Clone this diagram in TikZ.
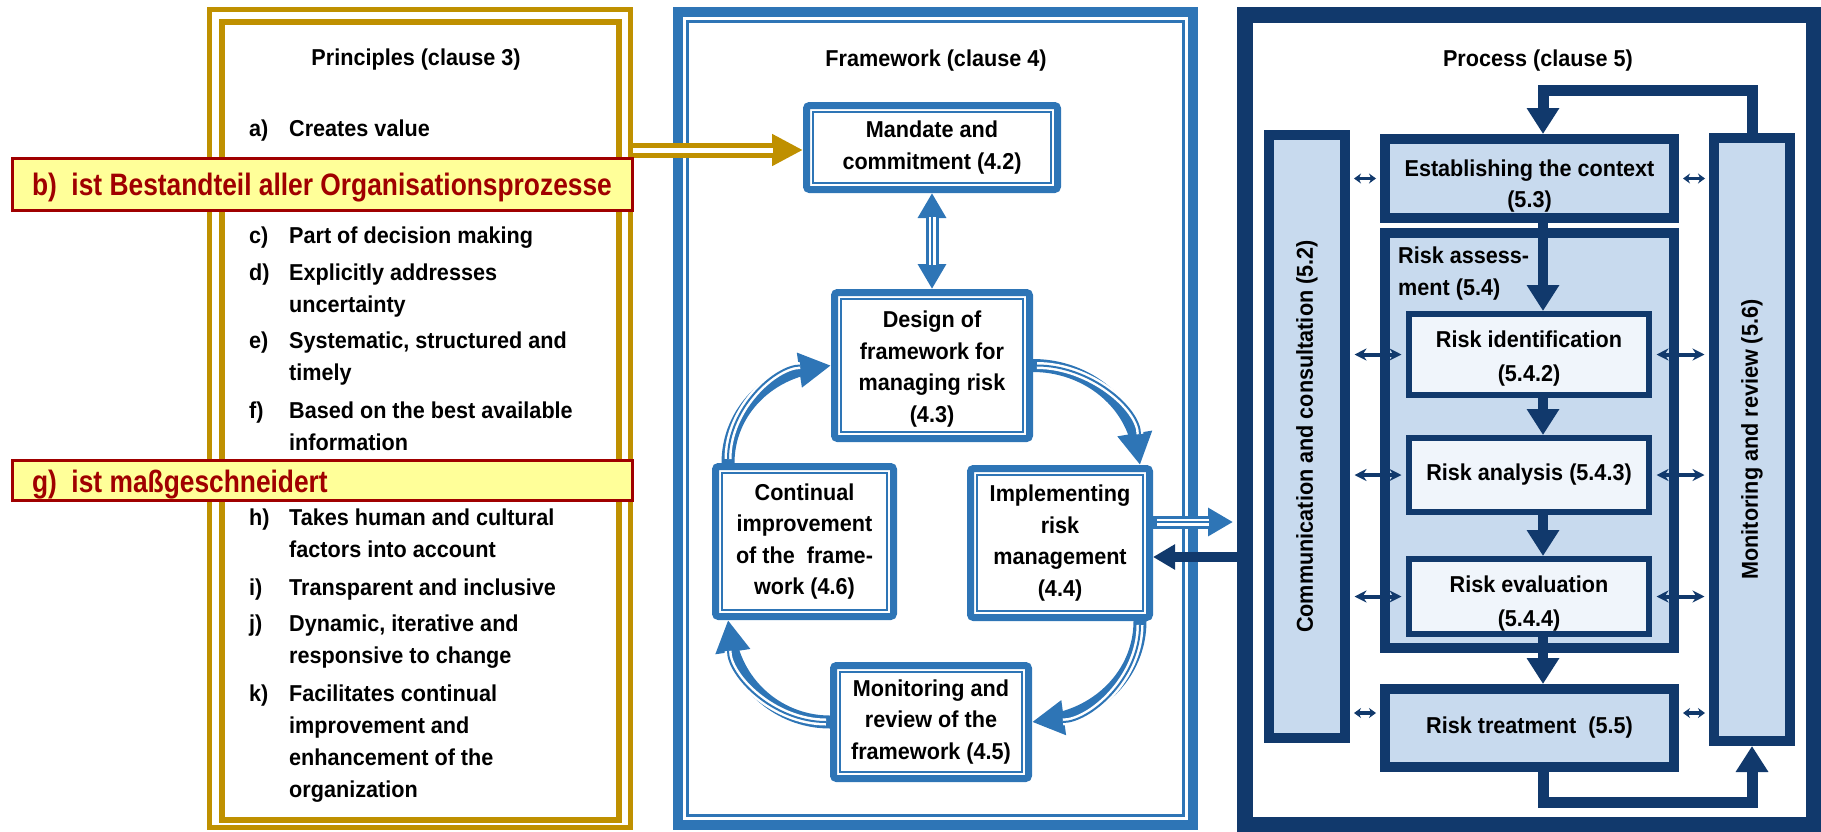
\documentclass[tikz,border=0pt]{standalone}
\usepackage{fontspec}
\setmainfont{Liberation Sans}[FakeStretch=0.94]
\newfontfamily\notefont{Liberation Sans}[FakeStretch=0.85]
\usetikzlibrary{arrows.meta,bending}

\definecolor{gold}{RGB}{191,144,0}
\definecolor{fwblue}{RGB}{46,117,182}
\definecolor{navy}{RGB}{17,57,108}
\definecolor{paleblue}{RGB}{200,218,238}
\definecolor{icefill}{RGB}{240,245,251}
\definecolor{notefill}{RGB}{255,255,153}
\definecolor{notered}{RGB}{160,0,0}

\tikzset{
  listtxt/.style={font=\fontsize{23}{32}\selectfont\bfseries, inner sep=0pt, text=black},
  title/.style={font=\fontsize{23}{32}\selectfont\bfseries, inner sep=0pt, anchor=base},
  fwbox/.style={draw=fwblue, line width=7pt, rounded corners=3pt, fill=white,
    inner sep=0pt, align=center, font=\fontsize{23}{31.5}\selectfont\bfseries,
    path picture={\draw[fwblue, line width=2.5pt, sharp corners]
      ([shift={(6.5pt,6.5pt)}]path picture bounding box.south west) rectangle
      ([shift={(-6.5pt,-6.5pt)}]path picture bounding box.north east);}},
  pbox/.style={draw=navy, line width=10pt, fill=paleblue, inner sep=0pt,
    align=center, font=\fontsize{23}{31}\selectfont\bfseries},
  rbox/.style={draw=navy, line width=6pt, fill=icefill, inner sep=0pt,
    align=center, font=\fontsize{23}{34}\selectfont\bfseries},
  navyflow/.style={draw=navy, line width=10pt, -{Triangle[length=26pt,width=31pt]}},
  link/.style={draw=navy, line width=4pt,
    {Stealth[length=12pt,width=12pt]}-{Stealth[length=12pt,width=12pt]},
    shorten <=4.5pt, shorten >=4.5pt},
  shortlink/.style={draw=navy, line width=3.5pt,
    {Stealth[length=7pt,width=10pt]}-{Stealth[length=7pt,width=10pt]},
    shorten <=4pt, shorten >=4pt},
  note/.style={draw=notered, line width=3pt, fill=notefill, text=notered,
    inner xsep=20pt, inner ysep=0pt,
    font=\notefont\fontsize{31}{31}\selectfont\bfseries}
}

% blue connector drawn as a band with a white core and a thin centre line
\newcommand\fwlink[4]{%
  \draw[fwblue, line width=13pt, #1] #4;
  \draw[white, line width=7pt, shorten <=#2, shorten >=#3] #4;
  \draw[fwblue, line width=2pt, shorten <=#2, shorten >=#3] #4;}

% one principle: label column and text column
\newcommand\pitem[4]{%
  \node[listtxt, anchor=base west] (#1) at (249,#2)
    {\begin{tabular}[t]{@{}p{40pt}@{}l@{}}#3 & #4\end{tabular}};}

% centred lines set a little lower inside their box
\newcommand\shiftdown[2]{\raisebox{-#1}[\height][\depth]{\begin{tabular}{@{}c@{}}#2\end{tabular}}}

\begin{document}
\begin{tikzpicture}[x=1pt,y=-1pt]
\useasboundingbox (0,0) rectangle (1821,831);

% ---- frames of the three clauses
\draw[gold, line width=5pt] (209.5,9.5) rectangle (630.5,827.5);
\draw[gold, line width=6pt] (222,22) rectangle (619,819.5);
\draw[fwblue, line width=10pt] (678,12) rectangle (1193,825);
\draw[fwblue, line width=3pt] (687.5,21.5) rectangle (1183.5,815.5);
\draw[navy, line width=16pt] (1245,15) rectangle (1814,825);

% ---- titles
\node[title] (t3) at (416,65) {Principles (clause 3)};
\node[title] (t4) at (936,66) {Framework (clause 4)};
\node[title] (t5) at (1538,66) {Process (clause 5)};

% ---- principles
\pitem{pa}{136}{a)}{Creates value}
\pitem{pc}{243}{c)}{Part of decision making}
\pitem{pd}{280}{d)}{Explicitly addresses\\ & uncertainty}
\pitem{pe}{348}{e)}{Systematic, structured and\\ & timely}
\pitem{pf}{418}{f)}{Based on the best available\\ & information}
\pitem{ph}{525}{h)}{Takes human and cultural\\ & factors into account}
\pitem{pi}{595}{i)}{Transparent and inclusive}
\pitem{pj}{631}{j)}{Dynamic, iterative and\\ & responsive to change}
\pitem{pk}{701}{k)}{Facilitates continual\\ & improvement and\\ & enhancement of the\\ & organization}

% ---- framework
\node[fwbox, minimum width=251pt, minimum height=84pt] (mandate) at (932,147.5)
  {Mandate and\\commitment (4.2)};
\node[fwbox, minimum width=195pt, minimum height=146pt] (design) at (932,365.5)
  {\shiftdown{3pt}{Design of\\framework for\\managing risk\\(4.3)}};
\node[fwbox, minimum width=178pt, minimum height=150pt] (improve) at (804.5,541.5)
  {Continual\\improvement\\of the\ \ frame-\\work (4.6)};
\node[fwbox, minimum width=179pt, minimum height=149pt] (impl) at (1060,543)
  {Implementing\\risk\\management\\(4.4)};
\node[fwbox, minimum width=195pt, minimum height=113pt] (monfw) at (931,722)
  {Monitoring and\\review of the\\framework (4.5)};

% ---- process
\node[pbox, minimum width=76pt, minimum height=603pt] (comm) at (1307,436.5)
  {\rotatebox{90}{Communication and consultation (5.2)}};
\node[pbox, minimum width=76pt, minimum height=603pt] (monrev) at (1752,439.5)
  {\rotatebox{90}{Monitoring and review (5.6)}};
\node[pbox, minimum width=289pt, minimum height=79pt] (estab) at (1529.5,178.5)
  {\shiftdown{7pt}{Establishing the context\\(5.3)}};
\node[pbox, minimum width=289pt, minimum height=415pt] (assess) at (1529.5,440.5) {};
\node[listtxt, anchor=base west] (assesslabel) at (1398,263)
  {\begin{tabular}[t]{@{}l@{}}Risk assess-\\ment (5.4)\end{tabular}};
\node[rbox, minimum width=240pt, minimum height=81pt] (riskid) at (1529,354.5)
  {\shiftdown{3pt}{Risk identification\\(5.4.2)}};
\node[rbox, minimum width=240pt, minimum height=74pt] (riskan) at (1529,475)
  {Risk analysis (5.4.3)};
\node[rbox, minimum width=240pt, minimum height=75pt] (riskev) at (1529,596.5)
  {\shiftdown{6pt}{Risk evaluation\\(5.4.4)}};
\node[pbox, minimum width=289pt, minimum height=78pt] (treat) at (1529.5,728)
  {Risk treatment\ \ (5.5)};

% ---- process flow
\coordinate (flowx) at (1543,0);
\coordinate (looptop) at (1543,90);
\coordinate (loopbot) at (1752,802);
\draw[navyflow] (estab.south -| flowx) -- (riskid.north -| flowx);
\draw[navyflow] (riskid.south -| flowx) -- (riskan.north -| flowx);
\draw[navyflow] (riskan.south -| flowx) -- (riskev.north -| flowx);
\draw[navyflow] (riskev.south -| flowx) -- (treat.north -| flowx);
\draw[navyflow, line width=11pt] (monrev.north) |- (looptop) -- (estab.north -| flowx);
\draw[navyflow, line width=11pt] (treat.south -| flowx) |- (loopbot) -- (monrev.south);

% ---- links to communication and to monitoring
\coordinate (treatl) at ([yshift=15pt]treat.west);
\coordinate (treatr) at ([yshift=15pt]treat.east);
\draw[shortlink] (estab.west -| comm.east) -- (estab.west);
\draw[shortlink] (estab.east) -- (estab.east -| monrev.west);
\draw[link] (riskid.west -| comm.east) -- (riskid.west);
\draw[link] (riskid.east) -- (riskid.east -| monrev.west);
\draw[link] (riskan.west -| comm.east) -- (riskan.west);
\draw[link] (riskan.east) -- (riskan.east -| monrev.west);
\draw[link] (riskev.west -| comm.east) -- (riskev.west);
\draw[link] (riskev.east) -- (riskev.east -| monrev.west);
\draw[shortlink] (treatl -| comm.east) -- (treatl);
\draw[shortlink] (treatr) -- (treatr -| monrev.west);

% ---- framework cycle
\fwlink{{Triangle[length=25pt,width=27pt]}-{Triangle[length=25pt,width=27pt]}}{24pt}{24pt}
  {(mandate.south) -- (design.north)}
\fwlink{-{Triangle[length=32pt,width=33pt]}}{4pt}{31pt}
  {(design.east) to[out=0,in=90] ([xshift=-13pt]impl.north east)}
\fwlink{-{Triangle[length=32pt,width=33pt]}}{4pt}{31pt}
  {([xshift=-13pt]impl.south east) to[out=-90,in=0] (monfw.east)}
\fwlink{-{Triangle[length=32pt,width=33pt]}}{4pt}{31pt}
  {(monfw.west) to[out=180,in=-90] ([xshift=16pt]improve.south west)}
\fwlink{-{Triangle[length=32pt,width=33pt]}}{4pt}{31pt}
  {([xshift=16pt]improve.north west) to[out=90,in=180] (design.west)}

% ---- between framework and process
\coordinate (procin) at (1233,522);
\coordinate (procout) at (1245,557);
\fwlink{-{Triangle[length=25pt,width=27pt]}}{4pt}{24pt}{(procin -| impl.east) -- (procin)}
\draw[navy, line width=10pt, -{Triangle[length=22pt,width=24pt]}] (procout) -- (procout -| impl.east);

% ---- principles feed the mandate
\coordinate (goldout) at (633,150);
\draw[gold, line width=15pt, -{Triangle[length=31pt,width=30pt]}] (goldout) -- (goldout -| mandate.west);
\draw[white, line width=5pt, shorten >=30pt] (goldout) -- (goldout -| mandate.west);

% ---- German notes laid over the principles
\node[note, anchor=base west, text height=37pt, text depth=15pt] (noteb) at (10.5,195)
  {\makebox[580pt][l]{b)~~ist Bestandteil aller Organisationsprozesse}};
\node[note, anchor=base west, text height=31.5pt, text depth=8.5pt] (noteg) at (10.5,492)
  {\makebox[580pt][l]{g)~~ist maßgeschneidert}};
\end{tikzpicture}
\end{document}
